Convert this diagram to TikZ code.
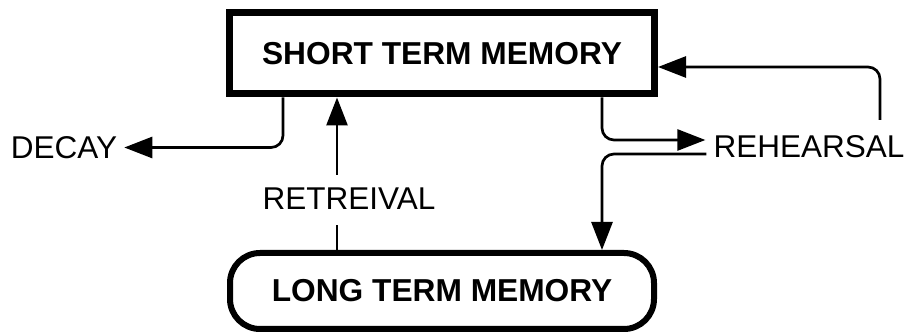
\documentclass[tikz,border=0pt]{standalone}
\usepackage{fontspec}
\setmainfont{Liberation Sans}
\usetikzlibrary{arrows.meta}
\begin{document}
\begin{tikzpicture}[x=1pt,y=-1pt,
  memory/.style={draw, line width=#1, inner sep=0pt, font=\fontsize{31.7}{33}\selectfont\bfseries},
  label/.style={inner sep=0pt, font=\fontsize{31.5}{33}\selectfont},
  flow/.style={line width=2.7pt, rounded corners=12pt, -{Triangle[length=28pt,width=21pt]}},
  plain/.style={line width=2.7pt, rounded corners=12pt}]
\useasboundingbox (0,0) rectangle (905,336);

% the two memory stores
\node[memory=7pt, minimum width=425pt, minimum height=81pt] (stm) at (442,53.5) {SHORT TERM MEMORY};
\node[memory=6pt, rounded corners=30pt, minimum width=424pt, minimum height=76pt] (ltm) at (442,291) {LONG TERM MEMORY};

% process labels
\node[label] (decay) at (64,147.5) {DECAY};
\node[label] (ret) at (349,198.5) {RETREIVAL};
\node[label] (reh) at (809,147) {REHEARSAL};

% decay out of short term memory
\draw[flow, shorten >=7pt] (stm.south -| 283,0) |- (decay.east);

% retrieval from long term into short term memory
\coordinate (retlow) at (337,225);
\coordinate (rethigh) at (337,175);
\draw[plain] (ltm.north -| retlow) -- (retlow);
\draw[flow] (rethigh) -- (stm.south -| rethigh);

% rehearsal loop
\coordinate (rehin) at ([xshift=-8pt,yshift=7pt]reh.west);
\coordinate (rehout) at ([xshift=-7pt,yshift=-7pt]reh.west);
\draw[flow] (stm.south -| 602,0) |- (rehin);
\draw[flow] (rehout) -| (ltm.north -| 602,0);
\coordinate (loopstart) at (880,120);
\draw[flow] (loopstart) |- ([yshift=-13.5pt]stm.east);
\end{tikzpicture}
\end{document}
